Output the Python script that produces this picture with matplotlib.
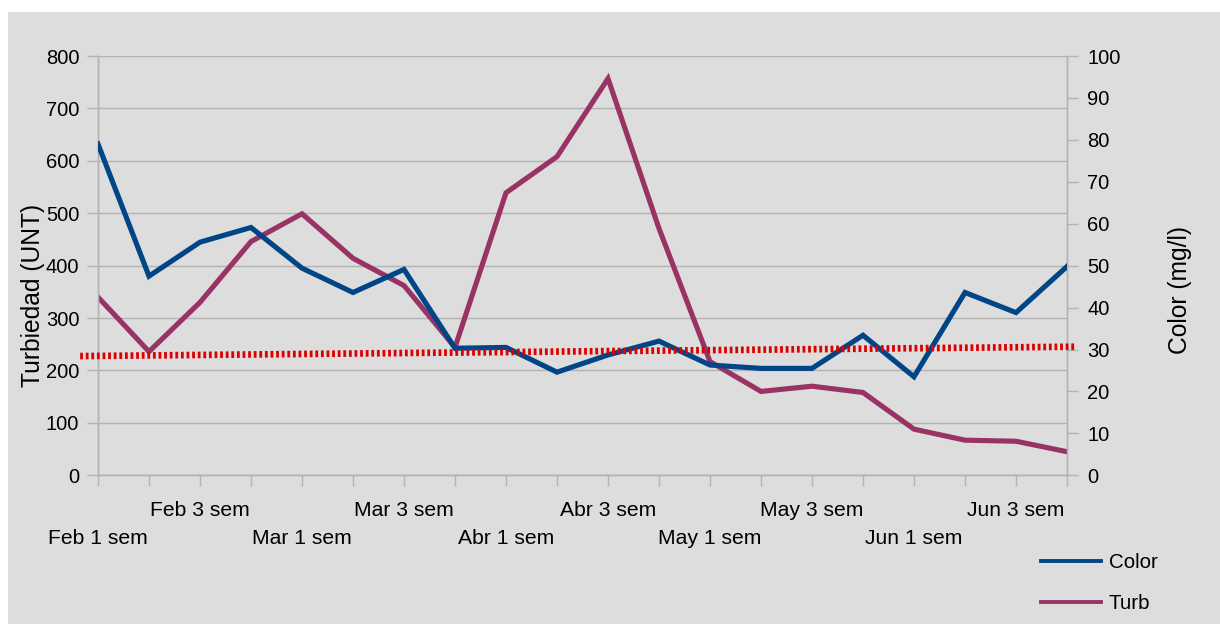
import matplotlib
matplotlib.use("Agg")
import matplotlib.pyplot as plt
from matplotlib.patches import Rectangle
from matplotlib.lines import Line2D

plt.rcParams['font.family'] = ['Liberation Sans', 'DejaVu Sans']

# ---- data ----
categories = ["Feb 1 sem", "Feb 2 sem", "Feb 3 sem", "Feb 4 sem",
              "Mar 1 sem", "Mar 2 sem", "Mar 3 sem", "Mar 4 sem",
              "Abr 1 sem", "Abr 2 sem", "Abr 3 sem", "Abr 4 sem",
              "May 1 sem", "May 2 sem", "May 3 sem", "May 4 sem",
              "Jun 1 sem", "Jun 2 sem", "Jun 3 sem", "Jun 4 sem"]
color_vals = [79.0, 47.5, 55.6, 59.1, 49.4, 43.6, 49.1, 30.3, 30.5, 24.6,
              28.7, 32.0, 26.3, 25.5, 25.5, 33.4, 23.5, 43.6, 38.8, 49.8]
turb_vals = [340, 236, 330, 446, 499, 414, 362, 244, 539, 608,
             757, 471, 217, 160, 170, 158, 88, 67, 65, 45]
ref_line = [227.8, 245.2]          # reference (dotted) line, left axis units, at first/last category
left_ticks = [0, 100, 200, 300, 400, 500, 600, 700, 800]
right_ticks = [0, 10, 20, 30, 40, 50, 60, 70, 80, 90, 100]

C_COLOR = "#004586"
C_TURB = "#993366"
C_REF = "#dc0000"
BG = "#dddddd"
GRID = "#b3b3b3"

W, H = 1220, 624
fig = plt.figure(figsize=(W / 100, H / 100), dpi=100, facecolor="white")
fig.patches.append(Rectangle((8 / W, 0), 1 - 8 / W, 1 - 12 / H, transform=fig.transFigure,
                             facecolor=BG, edgecolor="none", zorder=-10))

L, R, T, B = 98, 1067, 56, 475.3
ax = fig.add_axes([L / W, 1 - B / H, (R - L) / W, (B - T) / H])
ax.set_facecolor(BG)
ax2 = ax.twinx()

x = list(range(len(categories)))
ax.set_xlim(0, len(categories) - 1)
ax.set_ylim(0, 800)
ax2.set_ylim(0, 100)

# grid
ax.set_yticks(left_ticks)
ax.yaxis.grid(True, color=GRID, linewidth=1.0)
ax.set_axisbelow(True)

for a in (ax, ax2):
    for s in a.spines.values():
        s.set_color(GRID)
        s.set_linewidth(1.0)
    a.spines['top'].set_visible(False)

ax.tick_params(axis='y', length=8, width=1.0, color=GRID, pad=5.5, labelsize=14.5)
ax2.set_yticks(right_ticks)
ax2.tick_params(axis='y', length=8, width=1.0, color=GRID, pad=6.5, labelsize=14.5)

# x ticks: all categories, only every other label shown, staggered
xlabels = []
for i, c in enumerate(categories):
    if i % 4 == 0:
        xlabels.append("\n" + c)
    elif i % 4 == 2:
        xlabels.append(c)
    else:
        xlabels.append("")
ax.set_xticks(x)
ax.set_xticklabels(xlabels, linespacing=1.62)
ax.tick_params(axis='x', length=8, width=1.0, color=GRID, pad=10.5, labelsize=15.2)

# data lines
ax2.plot(x, color_vals, color=C_COLOR, linewidth=3.7, solid_joinstyle='miter', label="Color", zorder=3)
ax.plot(x, turb_vals, color=C_TURB, linewidth=3.7, solid_joinstyle='miter', label="Turb", zorder=3)

# dotted reference line (extends slightly beyond the plot area)
n = len(categories) - 1
slope = (ref_line[1] - ref_line[0]) / n
x0, x1 = -0.35, n + 0.16
ref = Line2D([x0, x1], [ref_line[0] + slope * x0, ref_line[0] + slope * x1],
             color=C_REF, linewidth=4.8, linestyle=(0, (0.42, 0.42)),
             dash_capstyle='butt', clip_on=False, zorder=4)
ax2.add_line(ref)
ref.set_transform(ax.transData)

ax.set_ylabel("Turbiedad (UNT)", fontsize=17.7, va='center', rotation_mode='anchor')
ax.yaxis.set_label_coords((33 - L) / (R - L), (B - 295) / (B - T))
ax2.set_ylabel("Color (mg/l)", fontsize=17.7, va='center', rotation=90, rotation_mode='anchor')
ax2.yaxis.set_label_coords((1180 - L) / (R - L), (B - 290.5) / (B - T))

handles = [Line2D([], [], color=C_COLOR, linewidth=2.8), Line2D([], [], color=C_TURB, linewidth=2.8)]
fig.legend(handles, ["Color", "Turb"], loc='center left',
           bbox_to_anchor=(1041 / W, 1 - 583 / H), frameon=False, fontsize=14.8,
           handlelength=2.9, handletextpad=0.4, labelspacing=1.1,
           borderpad=0, borderaxespad=0)

fig.savefig("out.png", dpi=100, facecolor="white")
